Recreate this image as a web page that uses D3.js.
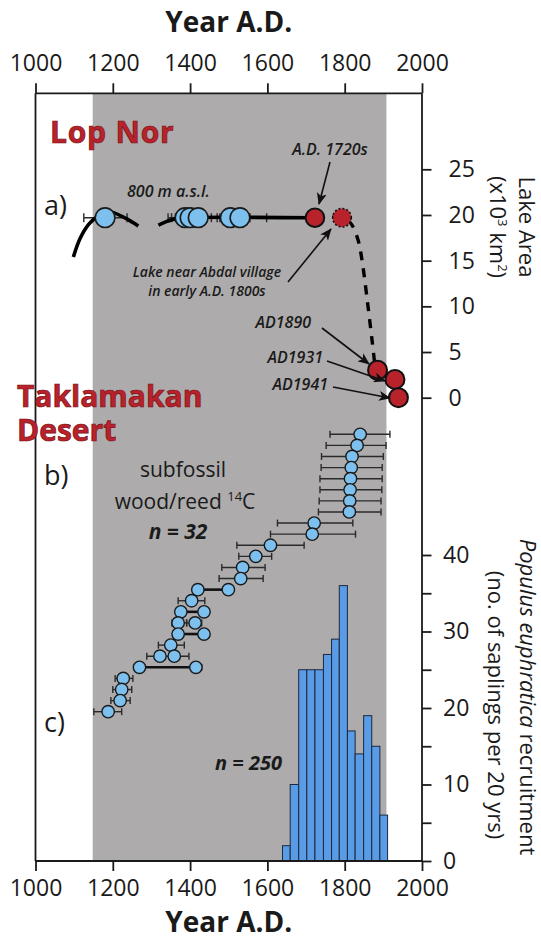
<!DOCTYPE html>
<html>
<head>
<meta charset="utf-8">
<script src="https://cdn.jsdelivr.net/npm/d3@7"></script>
<style>
body { margin: 0; background: #fff; }
svg { font-family: "Open Sans", sans-serif; }
</style>
</head>
<body>
<svg id="chart" width="541" height="938"></svg>
<script>
// ---- data ----
var yearTicks = [1000, 1200, 1400, 1600, 1800, 2000];
var lakeTicks = [0, 5, 10, 15, 20, 25];
var saplingTicks = [0, 5, 10, 15, 20, 25, 30, 35, 40];
var shadedYears = [1148, 1908];

// lake area (x10^3 km2) reconstruction, a)
var lakeSolidA = [[1098, 15.4], [1115, 17.4], [1138, 19.0], [1162, 19.9], [1185, 20.4], [1205, 20.2], [1235, 19.6], [1266, 18.8]];
var lakeSolidB = [[1318, 18.9], [1340, 19.3], [1362, 19.6], [1385, 19.7], [1723, 19.7]];
var lakeDashed = [[1723, 19.7], [1793, 19.7], [1806, 19.5], [1819, 18.9], [1835, 17.2], [1846, 14.7], [1860, 10.1], [1871, 6.2], [1878, 3.6]];

// dated lake stands (blue) with error ranges
var lakeDates = [
  {year: 1180, lo: 1125, hi: 1237},
  {year: 1387, lo: 1343, hi: 1440},
  {year: 1400, lo: 1352, hi: 1455},
  {year: 1421, lo: 1362, hi: 1470},
  {year: 1504, lo: 1477, hi: 1555},
  {year: 1529, lo: 1484, hi: 1598}
];

// historical observations (red)
var lakeObs = [
  {year: 1723, area: 19.7, dotted: false},
  {year: 1793, area: 19.7, dotted: true},
  {year: 1885, area: 3.0, dotted: false},
  {year: 1930, area: 2.0, dotted: false},
  {year: 1939, area: 0.0, dotted: false}
];

// b) subfossil wood/reed 14C dates, one row per sample line
var woodDates = [
  {row: 1, year: 1840, lo: 1762, hi: 1917},
  {row: 2, year: 1832, lo: 1752, hi: 1907},
  {row: 3, year: 1819, lo: 1740, hi: 1900},
  {row: 4, year: 1817, lo: 1739, hi: 1897},
  {row: 5, year: 1815, lo: 1736, hi: 1897},
  {row: 6, year: 1814, lo: 1736, hi: 1896},
  {row: 7, year: 1813, lo: 1734, hi: 1894},
  {row: 8, year: 1812, lo: 1732, hi: 1894},
  {row: 9, year: 1721, lo: 1626, hi: 1821},
  {row: 10, year: 1716, lo: 1608, hi: 1828},
  {row: 11, year: 1608, lo: 1521, hi: 1695},
  {row: 12, year: 1570, lo: 1526, hi: 1611},
  {row: 13, year: 1536, lo: 1482, hi: 1594},
  {row: 14, year: 1531, lo: 1475, hi: 1589},
  {row: 15, year: 1420},
  {row: 15, year: 1499},
  {row: 16, year: 1404, lo: 1369, hi: 1438},
  {row: 17, year: 1376},
  {row: 17, year: 1436},
  {row: 18, year: 1369, lo: 1353, hi: 1391},
  {row: 18, year: 1413, lo: 1391, hi: 1430},
  {row: 19, year: 1369},
  {row: 19, year: 1436},
  {row: 20, year: 1350, lo: 1318, hi: 1385},
  {row: 21, year: 1322, lo: 1288, hi: 1397},
  {row: 21, year: 1359},
  {row: 22, year: 1269, lo: 1256, hi: 1430},
  {row: 22, year: 1415},
  {row: 23, year: 1227, lo: 1206, hi: 1252},
  {row: 24, year: 1223, lo: 1200, hi: 1249},
  {row: 25, year: 1219, lo: 1195, hi: 1245},
  {row: 26, year: 1188, lo: 1151, hi: 1223}
];
// rows where two dates are joined by a range bar
var woodLinks = [
  {row: 15, from: 1420, to: 1499},
  {row: 17, from: 1376, to: 1436},
  {row: 19, from: 1369, to: 1436},
  {row: 22, from: 1269, to: 1415}
];

// c) Populus euphratica recruitment histogram
var binEdges = [1639, 1659, 1681, 1702, 1723, 1745, 1766, 1786, 1807, 1827, 1849, 1870, 1891, 1911];
var saplingCounts = [2, 10, 25, 25, 25, 27, 29, 36, 17, 14, 19, 15, 6];

// ---- drawing ----
var svg = d3.select("#chart");
var red = "#b8222b", blue = "#7dc0ee", ink = "#1a1a1a";

var x = d3.scaleLinear().domain([1000, 2000]).range([35.5, 422]);
var yLake = d3.scaleLinear().domain([0, 25]).range([397.7, 169.3]);
var ySap = d3.scaleLinear().domain([0, 40]).range([861, 555]);
var rows = d3.range(1, 27);
var yRow = d3.scalePoint().domain(rows).range([434.3, 711.7]);
var yTop = 93.3, yBottom = 861;

// shaded period
svg.append("rect")
  .attr("x", x(shadedYears[0])).attr("y", yTop)
  .attr("width", x(shadedYears[1]) - x(shadedYears[0]))
  .attr("height", yBottom - yTop)
  .attr("fill", "#adabab");

// histogram
var bars = saplingCounts.map(function(c, i) { return {x0: binEdges[i], x1: binEdges[i + 1], n: c}; });
svg.append("g").selectAll("rect")
  .data(bars)
  .enter().append("rect")
  .attr("x", function(d) { return x(d.x0); })
  .attr("width", function(d) { return x(d.x1) - x(d.x0); })
  .attr("y", function(d) { return ySap(d.n); })
  .attr("height", function(d) { return ySap(0) - ySap(d.n); })
  .attr("fill", "#5a9be6")
  .attr("stroke", "#1c2840")
  .attr("stroke-width", 1);

// axes
function styleAxis(g) {
  g.select(".domain").remove();
  g.selectAll("line").attr("stroke", ink).attr("stroke-width", 1.8);
  g.selectAll("text").attr("font-size", 23).attr("fill", ink)
    .attr("font-family", "'Open Sans', sans-serif");
}
svg.append("g")
  .attr("transform", "translate(0," + yTop + ")")
  .call(d3.axisTop(x).tickValues(yearTicks).tickSize(10).tickPadding(12).tickFormat(d3.format("d")))
  .call(styleAxis);
svg.append("g")
  .attr("transform", "translate(0," + yBottom + ")")
  .call(d3.axisBottom(x).tickValues(yearTicks).tickSize(10).tickPadding(9).tickFormat(d3.format("d")))
  .call(styleAxis);
svg.append("g")
  .attr("transform", "translate(422,0)")
  .call(d3.axisRight(yLake).tickValues(lakeTicks).tickSize(9.5).tickPadding(17))
  .call(styleAxis);
svg.append("g")
  .attr("transform", "translate(422,0)")
  .call(d3.axisRight(ySap).tickValues(saplingTicks).tickSize(9.5).tickPadding(11.5)
    .tickFormat(function(d) { return d % 10 === 0 ? d : ""; }))
  .call(styleAxis);

// frame lines
var frame = [[35.5, yTop, 422, yTop], [35.5, yBottom, 422, yBottom], [35.5, yTop, 35.5, yBottom], [422, yTop, 422, yBottom]];
svg.append("g").selectAll("line").data(frame).enter().append("line")
  .attr("x1", function(d) { return d[0]; }).attr("y1", function(d) { return d[1]; })
  .attr("x2", function(d) { return d[2]; }).attr("y2", function(d) { return d[3]; })
  .attr("stroke", ink).attr("stroke-width", 1.8);

// axis titles
svg.append("text").attr("x", 228.7).attr("y", 32).attr("text-anchor", "middle")
  .attr("font-size", 28).attr("font-weight", "bold").attr("fill", ink).text("Year A.D.");
svg.append("text").attr("x", 228.7).attr("y", 932).attr("text-anchor", "middle")
  .attr("font-size", 28).attr("font-weight", "bold").attr("fill", ink).text("Year A.D.");

svg.append("text").attr("transform", "translate(519,227) rotate(90)").attr("text-anchor", "middle")
  .attr("font-size", 22).attr("fill", ink).text("Lake Area");
var la = svg.append("text").attr("transform", "translate(490,227) rotate(90)").attr("text-anchor", "middle")
  .attr("font-size", 22).attr("fill", ink);
la.append("tspan").text("(x10");
la.append("tspan").attr("dy", -8).attr("font-size", 13).text("3");
la.append("tspan").attr("dy", 8).text(" km");
la.append("tspan").attr("dy", -8).attr("font-size", 13).text("2");
la.append("tspan").attr("dy", 8).text(")");

var ct = svg.append("text").attr("transform", "translate(520,697) rotate(90)").attr("text-anchor", "middle")
  .attr("font-size", 22).attr("fill", ink);
ct.append("tspan").attr("font-style", "italic").text("Populus euphratica");
ct.append("tspan").text(" recruitment");
svg.append("text").attr("transform", "translate(488,705) rotate(90)").attr("text-anchor", "middle")
  .attr("font-size", 22).attr("fill", ink).text("(no. of saplings per 20 yrs)");

// ---- a) lake ----
var line = d3.line()
  .x(function(d) { return x(d[0]); })
  .y(function(d) { return yLake(d[1]); })
  .curve(d3.curveCatmullRom);

function errBars(g, data, yFn, cap, w) {
  var e = data.filter(function(d) { return d.lo != null; });
  g.selectAll(null).data(e).enter().append("line")
    .attr("x1", function(d) { return x(d.lo); }).attr("x2", function(d) { return x(d.hi); })
    .attr("y1", yFn).attr("y2", yFn)
    .attr("stroke", "#2a2a2a").attr("stroke-width", w);
  ["lo", "hi"].forEach(function(k) {
    g.selectAll(null).data(e).enter().append("line")
      .attr("x1", function(d) { return x(d[k]); }).attr("x2", function(d) { return x(d[k]); })
      .attr("y1", function(d) { return yFn(d) - cap; }).attr("y2", function(d) { return yFn(d) + cap; })
      .attr("stroke", "#2a2a2a").attr("stroke-width", w);
  });
}

var ga = svg.append("g");
errBars(ga, lakeDates, function() { return yLake(19.7); }, 4.5, 1.4);
[lakeSolidA, lakeSolidB].forEach(function(seg) {
  ga.append("path").attr("d", line(seg)).attr("fill", "none")
    .attr("stroke", "#000").attr("stroke-width", 3.6);
});
ga.append("path").attr("d", line(lakeDashed)).attr("fill", "none")
  .attr("stroke", "#000").attr("stroke-width", 3.4).attr("stroke-dasharray", "9,8");

ga.selectAll("circle.lb").data(lakeDates).enter().append("circle")
  .attr("cx", function(d) { return x(d.year); })
  .attr("cy", yLake(19.7))
  .attr("r", 9.8)
  .attr("fill", blue).attr("stroke", ink).attr("stroke-width", 1.6);

ga.selectAll("circle.obs").data(lakeObs).enter().append("circle")
  .attr("cx", function(d) { return x(d.year); })
  .attr("cy", function(d) { return yLake(d.area); })
  .attr("r", function(d) { return d.year > 1850 ? 9.5 : 9.3; })
  .attr("fill", red).attr("stroke", "#111")
  .attr("stroke-width", function(d) { return d.dotted ? 1.6 : 2; })
  .attr("stroke-dasharray", function(d) { return d.dotted ? "2,2" : null; });

// ---- b) subfossil dates ----
var gb = svg.append("g");
errBars(gb, woodDates, function(d) { return yRow(d.row); }, 3.5, 1.4);
gb.selectAll(null).data(woodLinks).enter().append("line")
  .attr("x1", function(d) { return x(d.from); }).attr("x2", function(d) { return x(d.to); })
  .attr("y1", function(d) { return yRow(d.row); }).attr("y2", function(d) { return yRow(d.row); })
  .attr("stroke", "#111").attr("stroke-width", 2.6);
gb.selectAll("circle").data(woodDates).enter().append("circle")
  .attr("cx", function(d) { return x(d.year); })
  .attr("cy", function(d) { return yRow(d.row); })
  .attr("r", 6.2)
  .attr("fill", blue).attr("stroke", ink).attr("stroke-width", 1.4);

// ---- labels & annotations ----
var defs = svg.append("defs");
defs.append("marker").attr("id", "arr").attr("viewBox", "0 0 12 10")
  .attr("refX", 11).attr("refY", 5).attr("markerWidth", 12).attr("markerHeight", 10)
  .attr("markerUnits", "userSpaceOnUse").attr("orient", "auto")
  .append("path").attr("d", "M0,0 L12,5 L0,10 L3,5 Z").attr("fill", "#111");

var arrows = [
  [330, 162, 319, 204],
  [288, 282, 331, 229],
  [322, 328, 369, 364],
  [327, 361, 385, 381],
  [333, 387, 390, 398]
];
svg.append("g").selectAll("line").data(arrows).enter().append("line")
  .attr("x1", function(d) { return d[0]; }).attr("y1", function(d) { return d[1]; })
  .attr("x2", function(d) { return d[2]; }).attr("y2", function(d) { return d[3]; })
  .attr("stroke", "#111").attr("stroke-width", 1.6).attr("marker-end", "url(#arr)");

function label(t, px, py, size, opts) {
  opts = opts || {};
  return svg.append("text").attr("x", px).attr("y", py)
    .attr("font-size", size)
    .attr("font-weight", opts.weight || "normal")
    .attr("font-style", opts.style || "normal")
    .attr("text-anchor", opts.anchor || "start")
    .attr("fill", opts.fill || ink)
    .text(t);
}
label("Lop Nor", 50, 143, 30, {weight: "bold", fill: red})
  .attr("letter-spacing", 0.8).attr("stroke", "#7a1015").attr("stroke-width", 0.7);
label("Taklamakan", 17, 407, 30, {weight: "bold", fill: red}).attr("stroke", "#7a1015").attr("stroke-width", 0.7);
label("Desert", 17, 441, 30, {weight: "bold", fill: red}).attr("stroke", "#7a1015").attr("stroke-width", 0.7);

label("a)", 44, 215, 27);
label("b)", 44, 485, 27);
label("c)", 44, 732, 27);

label("800 m a.s.l.", 127, 197, 16, {weight: 600, style: "italic"});
label("A.D. 1720s", 330, 155, 16, {weight: 600, style: "italic", anchor: "middle"});
label("Lake near Abdal village", 207, 277, 14, {weight: 600, style: "italic", anchor: "middle"});
label("in early A.D. 1800s", 207, 296, 14, {weight: 600, style: "italic", anchor: "middle"});
label("AD1890", 311, 328, 16, {weight: 600, style: "italic", anchor: "end"});
label("AD1931", 323, 363, 16, {weight: 600, style: "italic", anchor: "end"});
label("AD1941", 328, 390, 16, {weight: 600, style: "italic", anchor: "end"});

label("subfossil", 183, 477, 21, {anchor: "middle"});
var wr = label("wood/reed ", 185, 509, 21, {anchor: "middle"});
wr.append("tspan").attr("dy", -8).attr("font-size", 13).text("14");
wr.append("tspan").attr("dy", 8).text("C");
label("n = 32", 178, 539, 21, {weight: "bold", style: "italic", anchor: "middle"});
label("n = 250", 282, 770, 20, {weight: "bold", style: "italic", anchor: "end"});
</script>
</body>
</html>
